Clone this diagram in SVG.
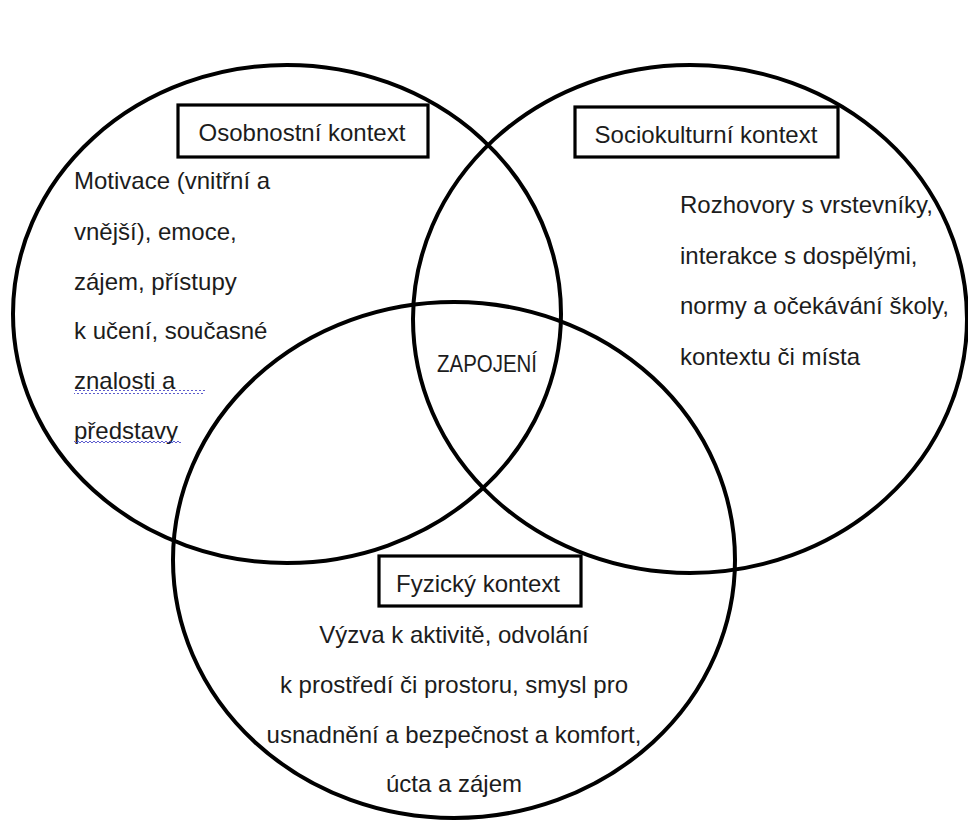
<svg xmlns="http://www.w3.org/2000/svg" width="968" height="821" viewBox="0 0 968 821">
<style>
.ring{fill:none;stroke:#000;stroke-width:4}
.box{fill:#fff;stroke:#000;stroke-width:3.2}
.t{font-family:"Liberation Sans",Arial,sans-serif;font-size:24px;fill:#1c1c1c}
.c{text-anchor:middle}
</style>
<defs>
<pattern id="wave" x="0" y="0" width="4" height="4" patternUnits="userSpaceOnUse">
<path d="M0,3 L2,1 L4,3" fill="none" stroke="#4b4bc8" stroke-width="0.9"/>
</pattern>
</defs>
<rect width="968" height="821" fill="#fff"/>
<g id="circle-osobnostni">
<ellipse class="ring" cx="287" cy="314" rx="274" ry="249"/>
</g>
<g id="circle-sociokulturni">
<ellipse class="ring" cx="690" cy="319" rx="277" ry="254"/>
</g>
<g id="circle-fyzicky">
<ellipse class="ring" cx="454" cy="560" rx="281" ry="258"/>
</g>
<g id="label-osobnostni">
<rect class="box" x="178" y="105" width="250" height="52"/>
<text class="t c" x="302" y="141">Osobnostní kontext</text>
</g>
<g id="label-sociokulturni">
<rect class="box" x="575" y="107" width="263" height="50"/>
<text class="t c" x="706" y="143">Sociokulturní kontext</text>
</g>
<g id="label-fyzicky">
<rect class="box" x="379" y="556" width="202" height="50"/>
<text class="t c" x="478" y="592">Fyzický kontext</text>
</g>
<g id="text-osobnostni">
<text class="t" x="74" y="189">Motivace (vnitřní a</text>
<text class="t" x="74" y="240">vnější), emoce,</text>
<text class="t" x="74" y="290">zájem, přístupy</text>
<text class="t" x="74" y="339">k učení, současné</text>
<text class="t" x="74" y="389">znalosti a</text>
<text class="t" x="74" y="439">představy</text>
<rect x="74" y="390" width="131" height="4" fill="url(#wave)"/>
<rect x="74" y="441" width="107" height="4" fill="url(#wave)"/>
</g>
<g id="text-sociokulturni">
<text class="t" x="680" y="213">Rozhovory s vrstevníky,</text>
<text class="t" x="680" y="264">interakce s dospělými,</text>
<text class="t" x="680" y="314">normy a očekávání školy,</text>
<text class="t" x="680" y="365">kontextu či místa</text>
</g>
<g id="text-fyzicky">
<text class="t c" x="454" y="643">Výzva k aktivitě, odvolání</text>
<text class="t c" x="454" y="693">k prostředí či prostoru, smysl pro</text>
<text class="t c" x="454" y="743">usnadnění a bezpečnost a komfort,</text>
<text class="t c" x="454" y="792">úcta a zájem</text>
</g>
<g id="center-zapojeni">
<text class="t" x="437" y="372" font-size="21" textLength="100" lengthAdjust="spacingAndGlyphs">ZAPOJENÍ</text>
</g>
</svg>
